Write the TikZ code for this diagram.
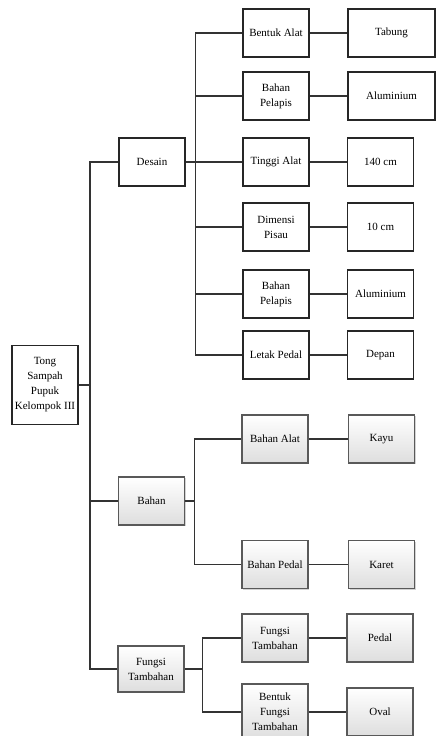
\documentclass[tikz,border=0pt]{standalone}
\usepackage{fontspec}
\setmainfont{Liberation Serif}
\usetikzlibrary{shadows}

\tikzset{
  box/.style={draw=black!85, line width=1.3pt, fill=white, minimum width=66pt, minimum height=48pt,
    inner sep=1pt, align=center, font=\fontsize{11}{15}\selectfont},
  shbox/.style={box, draw=black!65, top color=white, bottom color=black!13,
    drop shadow={shadow xshift=1pt, shadow yshift=-1pt, opacity=.35}},
  link/.style={line width=1.3pt, black!80}
}

\begin{document}
\begin{tikzpicture}[x=1pt,y=-1pt]
\useasboundingbox (0,0) rectangle (437,736);
\clip (0,0) rectangle (437,736);

\node[box, minimum height=79pt] (root) at (45,385) {Tong\\Sampah\\Pupuk\\Kelompok III};
\coordinate (trunk) at (90,0);

% desain
\node[box] (desain) at (152,162) {Desain};
\node[box] (bentuk) at (276,33) {Bentuk Alat};
\node[box] (pelapisa) at (276,96) {Bahan\\Pelapis};
\node[box] (tinggi) at (276,162) {Tinggi Alat};
\node[box] (dimensi) at (276,227) {Dimensi\\Pisau};
\node[box] (pelapisb) at (276,294) {Bahan\\Pelapis};
\node[box] (letak) at (276,355) {Letak Pedal};
\node[box, minimum width=87pt] (vbentuk) at (391.5,33) {Tabung};
\node[box, minimum width=87pt] (vpelapisa) at (391.5,96) {Aluminium};
\node[box] (vtinggi) at (380.5,162) {140 cm};
\node[box] (vdimensi) at (380.5,227) {10 cm};
\node[box] (vpelapisb) at (380.5,294) {Aluminium};
\node[box] (vletak) at (380.5,355) {Depan};

% bahan
\node[shbox] (bahan) at (151.5,501) {Bahan};
\node[shbox] (bahanalat) at (275,439) {Bahan Alat};
\node[shbox] (bahanpedal) at (275,564.5) {Bahan Pedal};
\node[shbox] (vbahanalat) at (381.5,439) {Kayu};
\node[shbox] (vbahanpedal) at (381.5,564.5) {Karet};

% fungsi tambahan
\node[shbox, minimum height=46pt] (fungsi) at (151,669) {Fungsi\\Tambahan};
\node[shbox] (fungsia) at (275,638) {Fungsi\\Tambahan};
\node[shbox, minimum height=56pt] (fungsib) at (275,712) {Bentuk\\Fungsi\\Tambahan};
\node[shbox] (vfungsia) at (380,638) {Pedal};
\node[shbox] (vfungsib) at (380,712) {Oval};

\draw[link] (root.east) -- (root.east -| trunk);
\draw[link] (desain.west) -- (desain.west -| trunk) |- (fungsi.west);
\draw[link] (bahan.west) -- (bahan.west -| trunk);

\foreach \n in {bentuk,pelapisa,tinggi,dimensi,pelapisb,letak}{
  \draw[link] (desain.east) -- ++(10,0) |- (\n.west);
  \draw[link] (\n.east) -- (v\n.west);
}
\foreach \n in {bahanalat,bahanpedal}{
  \draw[link] (bahan.east) -- ++(9,0) |- (\n.west);
  \draw[link] (\n.east) -- (v\n.west);
}
\foreach \n in {fungsia,fungsib}{
  \draw[link] (fungsi.east) -- ++(18,0) |- (\n.west);
  \draw[link] (\n.east) -- (v\n.west);
}
\end{tikzpicture}
\end{document}
